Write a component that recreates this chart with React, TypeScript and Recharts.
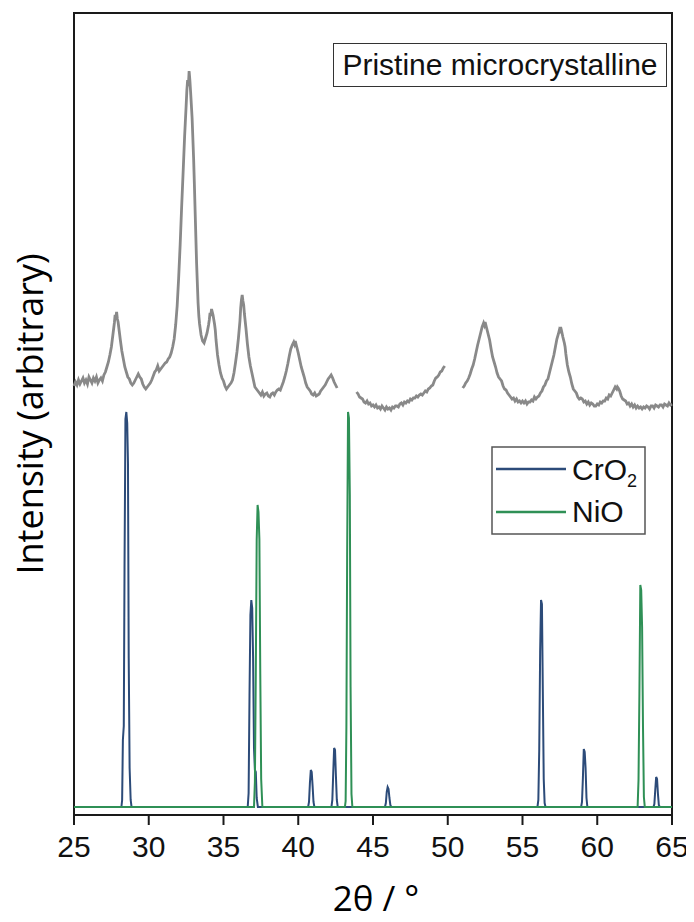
import React from 'react';
import { LineChart, Line, XAxis, YAxis, ReferenceArea, Legend, Label } from 'recharts';

const xTicks = [25, 30, 35, 40, 45, 50, 55, 60, 65];

// measured pattern of the pristine sample (null = gap in the scan)
const pristinePts: [number, number | null][] = [
  [25.0, 422], [25.1, 426], [25.2, 423], [25.3, 428], [25.4, 424], [25.5, 427], [25.6, 430], [25.7, 425],
  [25.8, 428], [25.9, 424], [26.0, 431], [26.1, 428], [26.2, 425], [26.3, 430], [26.4, 427], [26.5, 431],
  [26.6, 425], [26.7, 428], [26.8, 430], [26.9, 427], [27.0, 433], [27.1, 436], [27.2, 441], [27.3, 446],
  [27.4, 453], [27.5, 461], [27.6, 473], [27.7, 485], [27.75, 493], [27.8, 490], [27.85, 496], [27.9, 489],
  [27.95, 486], [28.05, 474], [28.1, 468], [28.2, 457], [28.3, 449], [28.4, 441], [28.5, 436], [28.6, 431],
  [28.7, 429], [28.8, 425], [28.9, 423], [29.0, 425], [29.1, 428], [29.2, 431], [29.3, 434], [29.4, 431],
  [29.5, 429], [29.6, 424], [29.7, 421], [29.8, 419], [29.9, 421], [30.0, 423], [30.1, 425], [30.2, 428],
  [30.3, 432], [30.4, 436], [30.5, 438], [30.6, 442], [30.7, 437], [30.8, 439], [30.9, 441], [31.0, 443],
  [31.1, 445], [31.2, 446], [31.3, 449], [31.4, 451], [31.5, 455], [31.6, 461], [31.7, 469], [31.8, 483],
  [31.9, 502], [32.0, 530], [32.1, 563], [32.2, 601], [32.3, 636], [32.4, 672], [32.5, 702], [32.55, 718],
  [32.6, 728], [32.65, 722], [32.7, 737], [32.75, 728], [32.8, 716], [32.85, 703], [32.9, 690], [33.0, 650],
  [33.05, 625], [33.1, 598], [33.2, 545], [33.3, 505], [33.35, 492], [33.4, 484], [33.5, 473], [33.6, 467],
  [33.7, 465], [33.8, 470], [33.9, 475], [34.0, 483], [34.05, 488], [34.1, 495], [34.15, 492], [34.2, 499],
  [34.25, 496], [34.3, 493], [34.4, 484], [34.45, 478], [34.5, 468], [34.6, 453], [34.7, 443], [34.8, 435],
  [34.9, 430], [35.0, 427], [35.1, 422], [35.2, 419], [35.3, 421], [35.4, 423], [35.5, 425], [35.6, 428],
  [35.7, 435], [35.8, 445], [35.9, 456], [36.0, 470], [36.1, 487], [36.15, 500], [36.2, 508], [36.25, 513],
  [36.3, 507], [36.35, 503], [36.4, 494], [36.5, 480], [36.6, 464], [36.7, 451], [36.8, 442], [36.9, 435],
  [37.0, 428], [37.1, 421], [37.2, 419], [37.3, 417], [37.4, 415], [37.5, 413], [37.6, 416], [37.7, 412],
  [37.8, 414], [37.9, 415], [38.0, 412], [38.1, 411], [38.2, 414], [38.3, 415], [38.4, 413], [38.5, 416],
  [38.6, 418], [38.7, 419], [38.8, 418], [38.9, 422], [39.0, 426], [39.1, 431], [39.2, 437], [39.3, 444],
  [39.4, 452], [39.5, 459], [39.6, 463], [39.7, 466], [39.75, 464], [39.8, 467], [39.9, 461], [40.0, 455],
  [40.1, 448], [40.2, 441], [40.3, 436], [40.4, 431], [40.5, 425], [40.6, 421], [40.7, 419], [40.8, 417],
  [40.9, 414], [41.0, 413], [41.1, 415], [41.2, 412], [41.3, 413], [41.4, 414], [41.5, 417], [41.6, 419],
  [41.7, 421], [41.8, 423], [41.9, 426], [42.0, 429], [42.1, 431], [42.2, 433], [42.3, 430], [42.4, 426],
  [42.5, 423], [42.6, 420], [43.2, null],
  [43.9, 416], [44.0, 414], [44.1, 411], [44.2, 410], [44.3, 409], [44.4, 406], [44.5, 405], [44.6, 407],
  [44.7, 404], [44.8, 405], [44.9, 402], [45.0, 403], [45.1, 401], [45.2, 403], [45.3, 400], [45.4, 401],
  [45.5, 399], [45.6, 402], [45.7, 400], [45.8, 398], [45.9, 401], [46.0, 399], [46.1, 400], [46.2, 398],
  [46.3, 401], [46.4, 400], [46.5, 402], [46.6, 402], [46.7, 401], [46.8, 404], [46.9, 405], [47.0, 403],
  [47.1, 406], [47.2, 405], [47.3, 407], [47.4, 406], [47.5, 409], [47.6, 408], [47.7, 410], [47.8, 410],
  [47.9, 412], [48.0, 411], [48.1, 413], [48.2, 414], [48.3, 413], [48.4, 415], [48.5, 417], [48.6, 416],
  [48.7, 419], [48.8, 420], [48.9, 422], [49.0, 423], [49.1, 427], [49.2, 430], [49.3, 431], [49.4, 433],
  [49.5, 436], [49.6, 437], [49.7, 440], [49.8, 442], [50.4, null],
  [51.0, 420], [51.1, 422], [51.2, 425], [51.3, 427], [51.4, 430], [51.5, 434], [51.6, 439], [51.7, 443],
  [51.8, 449], [51.9, 456], [52.0, 463], [52.1, 469], [52.2, 475], [52.3, 481], [52.4, 485], [52.45, 483],
  [52.5, 486], [52.6, 480], [52.65, 477], [52.7, 474], [52.8, 468], [52.9, 459], [53.0, 451], [53.1, 446],
  [53.2, 441], [53.3, 435], [53.4, 431], [53.5, 429], [53.6, 427], [53.7, 422], [53.8, 419], [53.9, 418],
  [54.0, 415], [54.1, 413], [54.2, 411], [54.3, 409], [54.4, 410], [54.5, 407], [54.6, 409], [54.7, 406],
  [54.8, 407], [54.9, 405], [55.0, 407], [55.1, 405], [55.2, 407], [55.3, 404], [55.4, 406], [55.5, 406],
  [55.6, 408], [55.7, 407], [55.8, 411], [55.9, 409], [56.0, 411], [56.1, 412], [56.2, 415], [56.3, 417],
  [56.4, 421], [56.5, 423], [56.6, 427], [56.7, 429], [56.8, 435], [56.9, 441], [57.0, 447], [57.1, 453],
  [57.2, 461], [57.3, 469], [57.4, 474], [57.45, 477], [57.5, 475], [57.55, 481], [57.6, 478], [57.7, 471],
  [57.8, 465], [57.85, 461], [57.9, 454], [58.0, 443], [58.1, 436], [58.2, 431], [58.3, 424], [58.4, 419],
  [58.5, 417], [58.6, 415], [58.7, 411], [58.8, 409], [58.9, 410], [59.0, 409], [59.1, 406], [59.2, 407],
  [59.3, 404], [59.4, 406], [59.5, 403], [59.6, 405], [59.7, 404], [59.8, 402], [59.9, 402], [60.0, 404],
  [60.1, 403], [60.2, 406], [60.3, 405], [60.4, 407], [60.5, 407], [60.6, 410], [60.7, 409], [60.8, 413],
  [60.9, 412], [61.0, 415], [61.1, 418], [61.2, 421], [61.3, 419], [61.35, 421], [61.4, 420], [61.5, 417],
  [61.6, 412], [61.7, 409], [61.8, 408], [61.9, 407], [62.0, 404], [62.1, 405], [62.2, 402], [62.3, 404],
  [62.4, 401], [62.5, 403], [62.6, 400], [62.7, 402], [62.8, 400], [62.9, 401], [63.0, 399], [63.1, 401],
  [63.2, 400], [63.3, 402], [63.4, 401], [63.5, 399], [63.6, 402], [63.7, 402], [63.8, 400], [63.9, 403],
  [64.0, 402], [64.1, 401], [64.2, 403], [64.3, 403], [64.4, 401], [64.5, 404], [64.6, 403], [64.7, 402],
  [64.8, 405], [64.9, 403], [65.0, 404],
];

// CrO2 reference pattern
const cro2Pts: [number, number][] = [
  [25, 1],
  [28.17, 1], [28.22, 8], [28.27, 68], [28.33, 82], [28.38, 240], [28.44, 389], [28.5, 396], [28.56, 385],
  [28.61, 345], [28.66, 150], [28.72, 40], [28.79, 8], [28.85, 1],
  [36.62, 1], [36.68, 15], [36.74, 113], [36.8, 193], [36.86, 208], [36.92, 200], [36.98, 150], [37.04, 60],
  [37.1, 38], [37.16, 36], [37.22, 10], [37.3, 1],
  [40.66, 1], [40.72, 6], [40.78, 25], [40.84, 38], [40.9, 36], [40.96, 22], [41.02, 6], [41.08, 1],
  [42.22, 1], [42.28, 8], [42.34, 35], [42.4, 60], [42.46, 58], [42.52, 32], [42.58, 8], [42.64, 1],
  [45.8, 1], [45.86, 5], [45.92, 16], [45.98, 21], [46.04, 19], [46.1, 10], [46.16, 3], [46.22, 1],
  [56.0, 1], [56.06, 8], [56.12, 59], [56.18, 156], [56.24, 208], [56.3, 204], [56.36, 116], [56.42, 29],
  [56.48, 5], [56.54, 1],
  [58.92, 1], [58.98, 6], [59.04, 30], [59.1, 59], [59.16, 56], [59.22, 40], [59.28, 10], [59.34, 1],
  [63.76, 1], [63.82, 4], [63.88, 18], [63.94, 31], [64.0, 29], [64.06, 14], [64.12, 3], [64.18, 1],
  [65, 1],
];

// NiO reference pattern
const nioPts: [number, number][] = [
  [25, 1],
  [37.04, 1], [37.1, 26], [37.16, 134], [37.22, 268], [37.28, 303], [37.34, 296], [37.4, 269], [37.46, 134],
  [37.52, 29], [37.6, 1],
  [43.12, 1], [43.17, 7], [43.22, 81], [43.27, 251], [43.33, 396], [43.39, 390], [43.45, 313], [43.5, 121],
  [43.56, 14], [43.62, 1],
  [62.7, 1], [62.76, 28], [62.82, 114], [62.88, 223], [62.94, 218], [63.0, 181], [63.06, 81], [63.12, 11],
  [63.18, 1],
  [65, 1],
];

const toRows = (pts: [number, number | null][]) => pts.map(([x, y]) => ({ x, y }));

const grey = '#898989';
const blue = '#2c4b79';
const green = '#2f9056';
const arial = '"Liberation Sans", Arial, sans-serif';
const sans = '"Open Sans", "Noto Sans", sans-serif';

const chem = (name: string) =>
  name.split(/(\d+)/).map((part, i) =>
    /\d/.test(part) ? (
      <tspan key={i} fontSize={18} dy={7}>{part}</tspan>
    ) : (
      <tspan key={i}>{part}</tspan>
    )
  );

const RefLegend = ({ payload }: any) => {
  const items = (payload || []).filter((p: any) => p.type !== 'none');
  return (
    <svg width={156} height={90}>
      <rect x={1} y={1} width={153} height={87} fill="#fff" stroke="#555" strokeWidth={1.5} />
      {items.map((p: any, i: number) => (
        <g key={p.value}>
          <line x1={5} x2={75} y1={23 + i * 43} y2={23 + i * 43} stroke={p.color} strokeWidth={2.5} />
          <text x={81} y={34 + i * 42} fontSize={30} fontFamily={arial} fill="#111">
            {chem(p.value)}
          </text>
        </g>
      ))}
    </svg>
  );
};

export default function App() {
  // pull the chart over the body margin so the rotated label has room
  return (
    <div style={{ position: 'relative', width: 694, height: 922, margin: -8 }}>
      <LineChart width={694} height={922} margin={{ top: 13, right: 22, bottom: 6, left: 14 }}>
        <ReferenceArea x1={25} x2={65} y1={-7} y2={795} fill="none" stroke="#1a1a1a" strokeWidth={2} />
        <XAxis
          dataKey="x"
          type="number"
          domain={[25, 65]}
          ticks={xTicks}
          interval={0}
          height={101}
          tickSize={10}
          tickMargin={11}
          stroke="#1a1a1a"
          strokeWidth={2}
          tick={{ fontSize: 30, fill: '#111', fontFamily: arial }}
        >
          <Label
            value="2θ / °"
            position="insideBottom"
            offset={5}
            dx={3}
            style={{ fontSize: 35, fill: '#000', fontFamily: sans }}
          />
        </XAxis>
        <YAxis type="number" domain={[-7, 795]} tick={false} tickLine={false} axisLine={false} width={60}>
          <Label
            value="Intensity (arbitrary)"
            angle={-90}
            position="insideLeft"
            offset={16}
            style={{ fontSize: 36, fill: '#000', fontFamily: sans, textAnchor: 'middle' }}
          />
        </YAxis>
        <Legend
          layout="horizontal"
          align="center"
          verticalAlign="middle"
          content={<RefLegend />}
          wrapperStyle={{ left: 491, top: 446, width: 156, height: 90 }}
        />
        <Line
          data={toRows(pristinePts)}
          dataKey="y"
          name="Pristine microcrystalline"
          legendType="none"
          stroke={grey}
          strokeWidth={2.8}
          dot={false}
          isAnimationActive={false}
        />
        <Line
          data={toRows(cro2Pts)}
          dataKey="y"
          name="CrO2"
          stroke={blue}
          strokeWidth={2}
          dot={false}
          isAnimationActive={false}
        />
        <Line
          data={toRows(nioPts)}
          dataKey="y"
          name="NiO"
          stroke={green}
          strokeWidth={2}
          dot={false}
          isAnimationActive={false}
        />
      </LineChart>
      <div
        style={{
          position: 'absolute',
          left: 333,
          top: 43,
          width: 332,
          height: 42,
          border: '1.5px solid #333',
          background: '#fff',
          fontFamily: arial,
          fontSize: 30,
          color: '#111',
          display: 'flex',
          alignItems: 'center',
          justifyContent: 'center',
        }}
      >
        Pristine microcrystalline
      </div>
    </div>
  );
}
